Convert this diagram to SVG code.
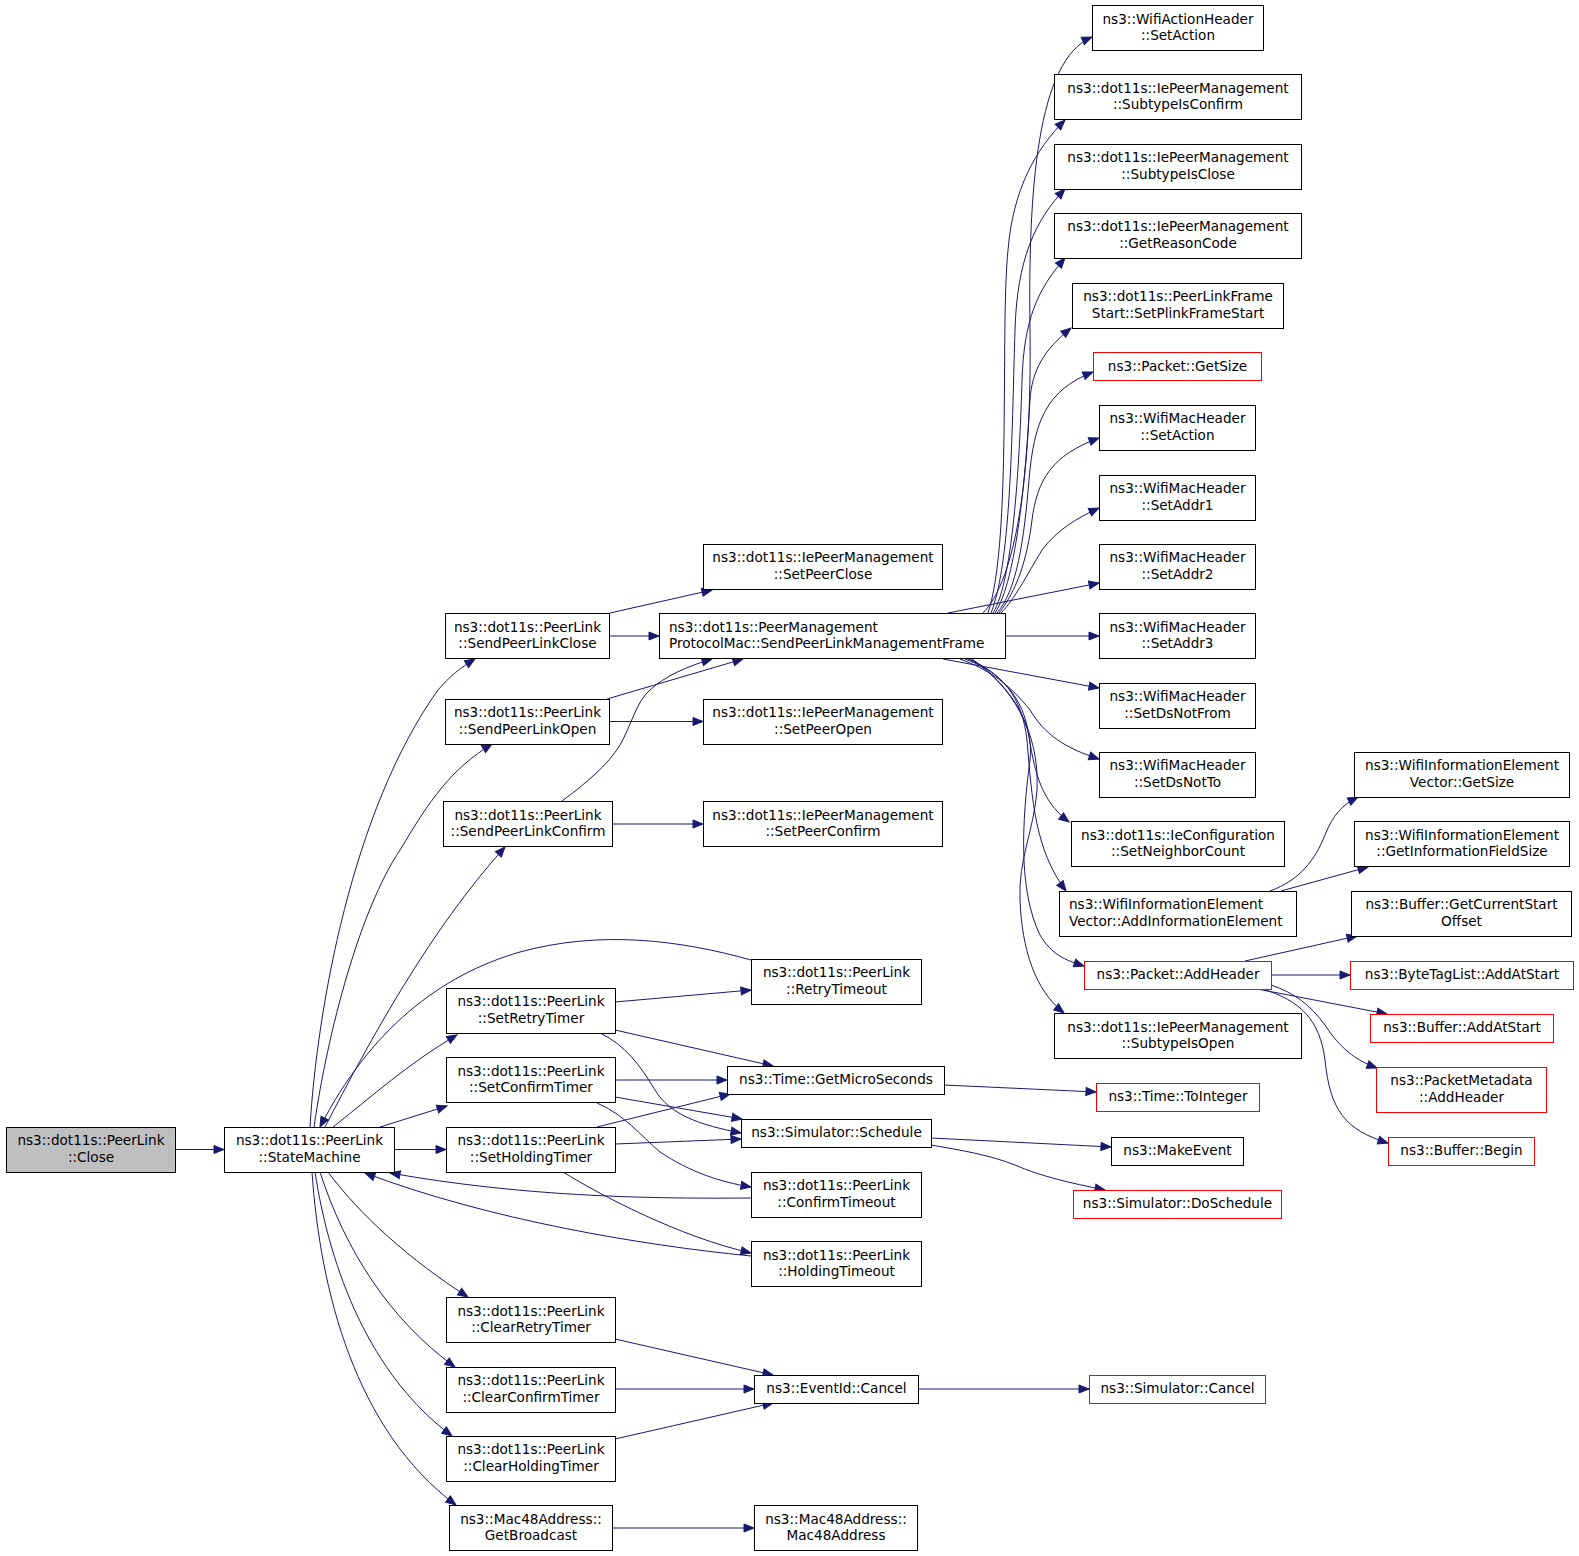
<svg xmlns="http://www.w3.org/2000/svg" width="1579" height="1556" viewBox="0 0 1579 1556">
<style>
.n rect{fill:#ffffff;stroke:#000000;stroke-width:1}
.n.r rect{stroke:#ff0000}
.n.root rect{fill:#bfbfbf}
.n text{font-family:"DejaVu Sans","Liberation Sans",sans-serif;font-size:13.6px;fill:#000000;text-anchor:middle}
.n text.l{text-anchor:start}
#edges path{fill:none;stroke:#191970;stroke-width:1;marker-end:url(#ah)}
</style>
<defs>
<marker id="ah" markerWidth="12" markerHeight="10" refX="10" refY="4" orient="auto" markerUnits="userSpaceOnUse" overflow="visible">
<path d="M0,0 L10,4 L0,8 z" fill="#191970" stroke="#191970" stroke-width="1"/>
</marker>
</defs>
<rect width="1579" height="1556" fill="#ffffff"/>
<g id="edges">
<path d="M175,1149.5 L224,1149.5"/>
<path d="M310,1127 C317,1010 352,810 438,690 C450,676 460,668 475,659"/>
<path d="M314,1127 C328,1030 360,910 400,850 C430,800 450,770 492,744"/>
<path d="M325,1127 C370,1040 430,930 505,847"/>
<path d="M751,960 C680,940 600,930 520,952 C440,975 370,1030 320,1127"/>
<path d="M333,1127 C370,1098 410,1062 457,1035"/>
<path d="M380,1127 L447,1106"/>
<path d="M394,1149.5 L446,1149.5"/>
<path d="M751,1198 C640,1199 520,1196 390,1173"/>
<path d="M751,1256 C640,1245 490,1220 365,1173"/>
<path d="M328,1172 C360,1215 410,1260 468,1297"/>
<path d="M320,1172 C345,1250 390,1320 455,1367"/>
<path d="M315,1172 C330,1270 370,1375 452,1436"/>
<path d="M312,1172 C320,1290 355,1430 456,1505"/>
<path d="M610,613 L712,590"/>
<path d="M609,636 L659,636"/>
<path d="M607,699 L743,659"/>
<path d="M609,721.5 L703,721.5"/>
<path d="M562,801 C585,784 608,765 620,745 C632,724 636,702 650,690 C665,676 688,666 712,659"/>
<path d="M612,824 L703,824"/>
<path d="M615,1002 L751,990"/>
<path d="M615,1030 L773,1066"/>
<path d="M600,1033 C625,1045 640,1065 655,1090 C670,1115 700,1125 741,1133"/>
<path d="M615,1080 L727,1080"/>
<path d="M615,1097 L742,1119"/>
<path d="M597,1103 C625,1115 640,1135 660,1152 C690,1172 720,1182 751,1187"/>
<path d="M597,1127 L730,1094"/>
<path d="M615,1144 L741,1139"/>
<path d="M563,1172 C600,1195 680,1237 751,1253"/>
<path d="M944,1085 L1096,1092"/>
<path d="M931,1138 L1111,1147"/>
<path d="M931,1145 C960,1150 990,1155 1015,1165 C1040,1176 1070,1183 1105,1190"/>
<path d="M615,1339 L773,1375"/>
<path d="M615,1389 L754,1389"/>
<path d="M615,1439 L773,1403"/>
<path d="M918,1389 L1089,1389"/>
<path d="M612,1528 L754,1528"/>
<path d="M983,613 C1015,580 1032,480 1030,330 C1028,190 1037,60 1092,37"/>
<path d="M988,613 C1012,540 1000,330 1008,250 C1013,190 1035,150 1065,120"/>
<path d="M991,613 C1012,560 1012,420 1015,330 C1017,260 1035,220 1065,189"/>
<path d="M993,613 C1014,580 1020,450 1022,380 C1024,320 1037,290 1065,258"/>
<path d="M995,613 C1017,580 1026,470 1030,400 C1032,370 1044,350 1071,328"/>
<path d="M997,613 C1017,590 1024,540 1029,480 C1034,420 1047,390 1093,372"/>
<path d="M999,613 C1017,590 1027,560 1032,520 C1037,480 1052,455 1099,438"/>
<path d="M1001,613 C1014,600 1027,575 1042,550 C1057,530 1077,518 1099,508"/>
<path d="M948,613 L1099,583"/>
<path d="M1005,636 L1099,636"/>
<path d="M943,659 L1099,688"/>
<path d="M960,659 C990,670 1010,685 1030,710 C1045,735 1065,748 1099,759"/>
<path d="M965,659 C995,670 1020,690 1028,730 C1034,770 1040,800 1069,822"/>
<path d="M968,659 C1000,672 1022,695 1027,740 C1032,800 1035,850 1066,891"/>
<path d="M970,659 C1005,680 1035,720 1030,760 C1022,820 1018,890 1040,935 C1052,955 1065,960 1084,966"/>
<path d="M972,659 C1010,685 1040,730 1037,790 C1034,830 1018,860 1020,900 C1022,950 1035,990 1064,1013"/>
<path d="M1270,891 C1300,880 1315,860 1325,835 C1333,815 1342,805 1358,797"/>
<path d="M1281,891 L1368,867"/>
<path d="M1245,961 L1357,936"/>
<path d="M1271,975 L1350,975"/>
<path d="M1252,988 L1387,1014"/>
<path d="M1271,985 C1295,993 1310,1005 1325,1025 C1340,1048 1355,1060 1377,1068"/>
<path d="M1262,989 C1300,1000 1320,1020 1325,1060 C1330,1110 1345,1130 1388,1143"/>
</g>
<g id="close" class="n root"><rect x="6.5" y="1127.5" width="169" height="45"/><text x="91" y="1145.2">ns3::dot11s::PeerLink</text><text x="91" y="1161.9">::Close</text></g>
<g id="statemachine" class="n"><rect x="224.5" y="1127.5" width="170" height="45"/><text x="309.5" y="1145.2">ns3::dot11s::PeerLink</text><text x="309.5" y="1161.9">::StateMachine</text></g>
<g id="sendclose" class="n"><rect x="445.5" y="613.5" width="164" height="45"/><text x="527.5" y="631.7">ns3::dot11s::PeerLink</text><text x="527.5" y="648.4">::SendPeerLinkClose</text></g>
<g id="sendopen" class="n"><rect x="445.5" y="699.5" width="164" height="45"/><text x="527.5" y="717.2">ns3::dot11s::PeerLink</text><text x="527.5" y="733.9">::SendPeerLinkOpen</text></g>
<g id="sendconfirm" class="n"><rect x="443.5" y="801.5" width="169" height="45"/><text x="528" y="819.7">ns3::dot11s::PeerLink</text><text x="528" y="836.4">::SendPeerLinkConfirm</text></g>
<g id="setretry" class="n"><rect x="446.5" y="988.5" width="169" height="45"/><text x="531" y="1006.2">ns3::dot11s::PeerLink</text><text x="531" y="1022.9">::SetRetryTimer</text></g>
<g id="setconfirm" class="n"><rect x="446.5" y="1057.5" width="169" height="45"/><text x="531" y="1075.7">ns3::dot11s::PeerLink</text><text x="531" y="1092.4">::SetConfirmTimer</text></g>
<g id="setholding" class="n"><rect x="446.5" y="1127.5" width="169" height="45"/><text x="531" y="1145.2">ns3::dot11s::PeerLink</text><text x="531" y="1161.9">::SetHoldingTimer</text></g>
<g id="clearretry" class="n"><rect x="446.5" y="1297.5" width="169" height="45"/><text x="531" y="1315.7">ns3::dot11s::PeerLink</text><text x="531" y="1332.4">::ClearRetryTimer</text></g>
<g id="clearconfirm" class="n"><rect x="446.5" y="1367.5" width="169" height="45"/><text x="531" y="1385.2">ns3::dot11s::PeerLink</text><text x="531" y="1401.9">::ClearConfirmTimer</text></g>
<g id="clearholding" class="n"><rect x="446.5" y="1436.5" width="169" height="45"/><text x="531" y="1454.2">ns3::dot11s::PeerLink</text><text x="531" y="1470.9">::ClearHoldingTimer</text></g>
<g id="getbroadcast" class="n"><rect x="449.5" y="1505.5" width="163" height="45"/><text x="531" y="1523.7">ns3::Mac48Address::</text><text x="531" y="1540.4">GetBroadcast</text></g>
<g id="setpeerclose" class="n"><rect x="703.5" y="544.5" width="239" height="45"/><text x="823" y="562.2">ns3::dot11s::IePeerManagement</text><text x="823" y="578.9">::SetPeerClose</text></g>
<g id="splmf" class="n"><rect x="659.5" y="613.5" width="346" height="45"/><text class="l" x="669" y="631.7">ns3::dot11s::PeerManagement</text><text class="l" x="669" y="648.4">ProtocolMac::SendPeerLinkManagementFrame</text></g>
<g id="setpeeropen" class="n"><rect x="703.5" y="699.5" width="239" height="45"/><text x="823" y="717.2">ns3::dot11s::IePeerManagement</text><text x="823" y="733.9">::SetPeerOpen</text></g>
<g id="setpeerconfirm" class="n"><rect x="703.5" y="801.5" width="239" height="45"/><text x="823" y="819.7">ns3::dot11s::IePeerManagement</text><text x="823" y="836.4">::SetPeerConfirm</text></g>
<g id="retrytimeout" class="n"><rect x="751.5" y="959.5" width="170" height="45"/><text x="836.5" y="977.2">ns3::dot11s::PeerLink</text><text x="836.5" y="993.9">::RetryTimeout</text></g>
<g id="getmicro" class="n"><rect x="727.5" y="1066.5" width="217" height="28"/><text x="836" y="1084.3">ns3::Time::GetMicroSeconds</text></g>
<g id="schedule" class="n"><rect x="741.5" y="1119.5" width="190" height="28"/><text x="836.5" y="1137.3">ns3::Simulator::Schedule</text></g>
<g id="confirmtimeout" class="n"><rect x="751.5" y="1172.5" width="170" height="45"/><text x="836.5" y="1190.2">ns3::dot11s::PeerLink</text><text x="836.5" y="1206.9">::ConfirmTimeout</text></g>
<g id="holdingtimeout" class="n"><rect x="751.5" y="1241.5" width="170" height="45"/><text x="836.5" y="1259.7">ns3::dot11s::PeerLink</text><text x="836.5" y="1276.4">::HoldingTimeout</text></g>
<g id="eventcancel" class="n"><rect x="754.5" y="1375.5" width="164" height="28"/><text x="836.5" y="1393.3">ns3::EventId::Cancel</text></g>
<g id="mac48" class="n"><rect x="754.5" y="1505.5" width="163" height="45"/><text x="836" y="1523.7">ns3::Mac48Address::</text><text x="836" y="1540.4">Mac48Address</text></g>
<g id="wah" class="n"><rect x="1092.5" y="5.5" width="171" height="45"/><text x="1178" y="23.7">ns3::WifiActionHeader</text><text x="1178" y="40.4">::SetAction</text></g>
<g id="subconfirm" class="n"><rect x="1054.5" y="74.5" width="247" height="45"/><text x="1178" y="92.7">ns3::dot11s::IePeerManagement</text><text x="1178" y="109.4">::SubtypeIsConfirm</text></g>
<g id="subclose" class="n"><rect x="1054.5" y="144.5" width="247" height="45"/><text x="1178" y="162.2">ns3::dot11s::IePeerManagement</text><text x="1178" y="178.9">::SubtypeIsClose</text></g>
<g id="getreason" class="n"><rect x="1054.5" y="213.5" width="247" height="45"/><text x="1178" y="231.2">ns3::dot11s::IePeerManagement</text><text x="1178" y="247.9">::GetReasonCode</text></g>
<g id="plink" class="n"><rect x="1072.5" y="283.5" width="211" height="45"/><text x="1178" y="301.2">ns3::dot11s::PeerLinkFrame</text><text x="1178" y="317.9">Start::SetPlinkFrameStart</text></g>
<g id="getsize" class="n r"><rect x="1093.5" y="352.5" width="168" height="28"/><text x="1177.5" y="370.8">ns3::Packet::GetSize</text></g>
<g id="wmhaction" class="n"><rect x="1099.5" y="405.5" width="156" height="45"/><text x="1177.5" y="423.2">ns3::WifiMacHeader</text><text x="1177.5" y="439.9">::SetAction</text></g>
<g id="addr1" class="n"><rect x="1099.5" y="475.5" width="156" height="45"/><text x="1177.5" y="493.2">ns3::WifiMacHeader</text><text x="1177.5" y="509.9">::SetAddr1</text></g>
<g id="addr2" class="n"><rect x="1099.5" y="544.5" width="156" height="45"/><text x="1177.5" y="562.2">ns3::WifiMacHeader</text><text x="1177.5" y="578.9">::SetAddr2</text></g>
<g id="addr3" class="n"><rect x="1099.5" y="613.5" width="156" height="45"/><text x="1177.5" y="631.7">ns3::WifiMacHeader</text><text x="1177.5" y="648.4">::SetAddr3</text></g>
<g id="dsnotfrom" class="n"><rect x="1099.5" y="683.5" width="156" height="45"/><text x="1177.5" y="701.2">ns3::WifiMacHeader</text><text x="1177.5" y="717.9">::SetDsNotFrom</text></g>
<g id="dsnotto" class="n"><rect x="1099.5" y="752.5" width="156" height="45"/><text x="1177.5" y="770.2">ns3::WifiMacHeader</text><text x="1177.5" y="786.9">::SetDsNotTo</text></g>
<g id="neighbor" class="n"><rect x="1071.5" y="821.5" width="213" height="45"/><text x="1178" y="839.7">ns3::dot11s::IeConfiguration</text><text x="1178" y="856.4">::SetNeighborCount</text></g>
<g id="addie" class="n"><rect x="1059.5" y="891.5" width="237" height="45"/><text class="l" x="1069" y="909.2">ns3::WifiInformationElement</text><text class="l" x="1069" y="925.9">Vector::AddInformationElement</text></g>
<g id="addheader" class="n r"><rect x="1084.5" y="961.5" width="187" height="28"/><text x="1178" y="979.3">ns3::Packet::AddHeader</text></g>
<g id="subopen" class="n"><rect x="1054.5" y="1013.5" width="247" height="45"/><text x="1178" y="1031.7">ns3::dot11s::IePeerManagement</text><text x="1178" y="1048.4">::SubtypeIsOpen</text></g>
<g id="tointeger" class="n r"><rect x="1096.5" y="1083.5" width="163" height="28"/><text x="1178" y="1101.3">ns3::Time::ToInteger</text></g>
<g id="makeevent" class="n"><rect x="1111.5" y="1137.5" width="132" height="28"/><text x="1177.5" y="1155.3">ns3::MakeEvent</text></g>
<g id="doschedule" class="n r"><rect x="1073.5" y="1190.5" width="208" height="28"/><text x="1177.5" y="1208.3">ns3::Simulator::DoSchedule</text></g>
<g id="simcancel" class="n r"><rect x="1089.5" y="1375.5" width="176" height="28"/><text x="1177.5" y="1393.3">ns3::Simulator::Cancel</text></g>
<g id="wievgetsize" class="n"><rect x="1354.5" y="752.5" width="215" height="45"/><text x="1462" y="770.2">ns3::WifiInformationElement</text><text x="1462" y="786.9">Vector::GetSize</text></g>
<g id="getinfofield" class="n"><rect x="1354.5" y="821.5" width="215" height="45"/><text x="1462" y="839.7">ns3::WifiInformationElement</text><text x="1462" y="856.4">::GetInformationFieldSize</text></g>
<g id="curstart" class="n"><rect x="1351.5" y="891.5" width="220" height="45"/><text x="1461.5" y="909.2">ns3::Buffer::GetCurrentStart</text><text x="1461.5" y="925.9">Offset</text></g>
<g id="bytetag" class="n r"><rect x="1350.5" y="961.5" width="223" height="28"/><text x="1462" y="979.3">ns3::ByteTagList::AddAtStart</text></g>
<g id="bufaddatstart" class="n r"><rect x="1370.5" y="1014.5" width="183" height="28"/><text x="1462" y="1032.3">ns3::Buffer::AddAtStart</text></g>
<g id="pmaddheader" class="n r"><rect x="1376.5" y="1067.5" width="170" height="45"/><text x="1461.5" y="1085.2">ns3::PacketMetadata</text><text x="1461.5" y="1101.9">::AddHeader</text></g>
<g id="bufbegin" class="n r"><rect x="1388.5" y="1137.5" width="146" height="28"/><text x="1461.5" y="1155.3">ns3::Buffer::Begin</text></g>
</svg>
